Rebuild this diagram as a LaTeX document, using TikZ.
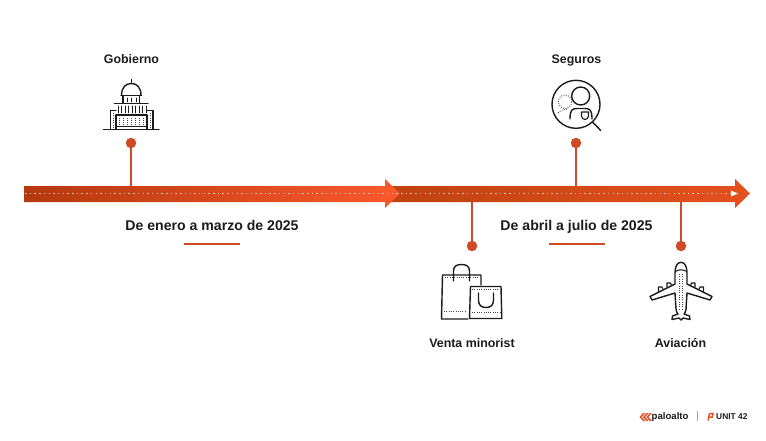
\documentclass[tikz,border=0pt]{standalone}
\usepackage{fontspec}
\setmainfont{Liberation Sans}
\definecolor{ink}{HTML}{1C1C1C}
\definecolor{pin}{HTML}{CF4A26}
\definecolor{dotc}{HTML}{F7C3A3}
\definecolor{aOneL}{HTML}{B5380D}
\definecolor{aOneR}{HTML}{FA592D}
\definecolor{aTwoL}{HTML}{BF420F}
\definecolor{aTwoR}{HTML}{E5501F}
\definecolor{logoO}{HTML}{E8552A}
\tikzset{
  lbl/.style={font=\bfseries\fontsize{12.4}{14}\selectfont,text=ink,inner sep=0pt,anchor=base},
  period/.style={font=\bfseries\fontsize{14.1}{15}\selectfont,text=ink,inner sep=0pt,anchor=base},
  pinhead/.style={circle,fill=pin,draw=none,minimum size=10.5pt,inner sep=0pt},
  stem/.style={draw=pin,line width=2pt},
  rulebar/.style={draw=pin,line width=2pt},
  icon/.style={draw=ink,line width=1.4pt,line join=round,line cap=round,fill=none},
  thin/.style={draw=ink,line width=.9pt,line cap=round},
  dots/.style={draw=ink!80,line width=.9pt,dash pattern=on .9pt off 1.4pt},
}
\begin{document}
\begin{tikzpicture}[x=1pt,y=-1pt]
\useasboundingbox[fill=white] (0,0) rectangle (766,440);
% arrows
\shade[left color=aTwoL,right color=aTwoR] (385,186) -- (735,186) -- (735,179) -- (750,193.5) -- (735,208) -- (735,202) -- (385,202) -- cycle;
\shade[left color=aOneL,right color=aOneR] (24,186) -- (385,186) -- (385,179) -- (400,193.5) -- (385,208) -- (385,202) -- (24,202) -- cycle;
\coordinate (dotstart) at (25,193.5);
\coordinate (dotend) at (731,193.5);
\draw[draw=dotc,line width=1.5pt,dash pattern=on 1.5pt off 3.2pt] (dotstart) -- (dotend);
\fill[white] (731,190.5) -- (738,193.5) -- (731,196.5) -- cycle;
% bar anchors
\coordinate (barA) at (131,186);
\coordinate (barB) at (576,186);
\coordinate (barC) at (472,202);
\coordinate (barD) at (681,202);
% pins
\node[pinhead] (pinA) at (131,143) {};
\node[pinhead] (pinB) at (576,143) {};
\node[pinhead] (pinC) at (472,246) {};
\node[pinhead] (pinD) at (681,246) {};
\draw[stem] (pinA) -- (barA);
\draw[stem] (pinB) -- (barB);
\draw[stem] (pinC) -- (barC);
\draw[stem] (pinD) -- (barD);
% labels
\node[lbl] (gob) at (131.5,63) {Gobierno};
\node[lbl] (seg) at (576.5,63) {Seguros};
\node[lbl] (ven) at (472,347.5) {Venta minorist};
\node[lbl] (avi) at (680.5,347.5) {Aviación};
\node[period] (p1) at (212,230.5) {De enero a marzo de 2025};
\node[period] (p2) at (576.5,230.5) {De abril a julio de 2025};
\coordinate (r1a) at (184,243.5); \coordinate (r1b) at (240,243.5);
\coordinate (r2a) at (549,243.5); \coordinate (r2b) at (605,243.5);
\draw[rulebar] (r1a) -- (r1b);
\draw[rulebar] (r2a) -- (r2b);
% capitol
\draw[icon] (103.5,129.5) -- (159,129.5);
\draw[icon] (116,129.5) -- (116,115) -- (147,115) -- (147,129.5);
\draw[icon] (116,110.5) -- (110.5,110.5) -- (110.5,129.5);
\draw[icon] (147,110.5) -- (153,110.5) -- (153,129.5);
\draw[icon] (114.5,103.5) -- (148,103.5);
\draw[thin] (116,126.5) -- (147,126.5);
\foreach \x in {118,121.5,125,128.5,132,135.5,139,142.5,146}{\draw[thin] (\x,106) -- (\x,113);}
\foreach \x in {119.5,123.5,127.5,131.5,135.5,139.5,143.5}{\draw[dots] (\x,117.5) -- (\x,124.5);}
\draw[dots] (113,113) -- (113,127.5);
\draw[dots] (150,113) -- (150,127.5);
\draw[icon] (123,103.5) -- (123,95.5);
\draw[icon] (139.5,103.5) -- (139.5,95.5);
\draw[icon] (121,95.5) -- (141.5,95.5);
\foreach \x in {127,131.5,136}{\draw[thin] (\x,98) -- (\x,102);}
\draw[icon] (121.5,95.5) .. controls (121.5,87) and (126,83.5) .. (131.3,83.5) .. controls (136.6,83.5) and (141,87) .. (141,95.5);
\draw[icon] (131.3,83.5) -- (131.3,79.5);
% magnifier person
\draw[icon] (576,104.3) circle[radius=24];
\draw[icon] (592.5,122) -- (600.7,130.5);
\draw[icon] (580.7,96) circle[radius=9];
\draw[icon] (570,119) .. controls (570,110) and (572,108.5) .. (577,108.5) -- (585,108.5) .. controls (590,108.5) and (592,110) .. (592,119);
\draw[icon,line width=1.1pt] (581.5,112) -- (588.5,112) -- (588.5,116) .. controls (588.5,118) and (586.5,119.5) .. (585,119.5) .. controls (583.5,119.5) and (581.5,118) .. (581.5,116) -- cycle;
\draw[dots] (565,101.7) circle[radius=6.7];
\draw[dots] (558,113) .. controls (561,110) and (564,109) .. (568,109);
% bags
\draw[icon] (481,285) -- (481,275) -- (442.5,275) -- (441.5,319) -- (468,319);
\draw[icon] (470.5,286.5) -- (501,286.5) -- (501.8,318.5) -- (469.5,318.5) -- cycle;
\draw[icon] (453.5,281) -- (453.5,271) .. controls (453.5,266) and (457,264.5) .. (461.5,264.5) .. controls (466,264.5) and (469.5,266) .. (469.5,271) -- (469.5,281);
\draw[icon] (478.5,293) -- (478.5,300) .. controls (478.5,305) and (481,307.5) .. (486,307.5) .. controls (491,307.5) and (493.5,305) .. (493.5,300) -- (493.5,293);
\draw[dots] (445,277.7) -- (478,277.7);
\draw[dots] (444,311) -- (467,311);
\draw[dots] (472,289.5) -- (499,289.5);
\draw[dots] (472,312.7) -- (500,312.7);
% plane
\draw[icon,fill=white] (681,262.3) .. controls (677,262.3) and (675,267) .. (675,273) -- (675,284) -- (650,296.5) -- (652,300) -- (675,293) -- (676,309) .. controls (676,311) and (677,313) .. (678,314) -- (672.5,316) -- (672,319.5) -- (679,318) -- (681,320) -- (683,318) -- (690,319.5) -- (689.5,316) -- (684,314) .. controls (685,313) and (686,311) .. (686,309) -- (687,293) -- (710,300) -- (712,296.5) -- (687,284) -- (687,273) .. controls (687,267) and (685,262.3) .. (681,262.3) -- cycle;
\draw[icon,line width=1.1pt] (658.5,291.5) -- (658.5,287) -- (662,287) -- (663,289);
\draw[icon,line width=1.1pt] (667,287) -- (667,283) -- (670.5,283) -- (671.5,285.5);
\draw[icon,line width=1.1pt] (703.5,291.5) -- (703.5,287) -- (700,287) -- (699,289);
\draw[icon,line width=1.1pt] (695,287) -- (695,283) -- (691.5,283) -- (690.5,285.5);
\draw[icon,line width=1.1pt] (676.5,271) .. controls (678,269.5) and (684,269.5) .. (685.5,271);
\draw[dots] (679.5,274) -- (679.5,309);
\draw[dots] (682.5,274) -- (682.5,309);
% logos
\foreach \dx in {0,3.4,6.8}{
  \fill[logoO] (639.5+\dx,417) -- (643+\dx,413) -- (645.2+\dx,413) -- (641.7+\dx,417) -- (645.2+\dx,421) -- (643+\dx,421) -- cycle;
}
\node[inner sep=0pt,anchor=base west,text=ink,font=\bfseries\fontsize{9.6}{10}\selectfont] (pa) at (651.5,419) {paloalto};
\draw[draw=black!35,line width=.5pt] (697.5,411) -- (697.5,421);
\draw[draw=logoO,line width=1.5pt] (708,420.5) -- (709.5,413.5) -- (713,413.5) -- (712.3,417) -- (709.5,417);
\node[inner sep=0pt,anchor=base west,text=ink,font=\bfseries\fontsize{8.4}{9}\selectfont] (u42) at (716,419) {UNIT 42};
\end{tikzpicture}
\end{document}
